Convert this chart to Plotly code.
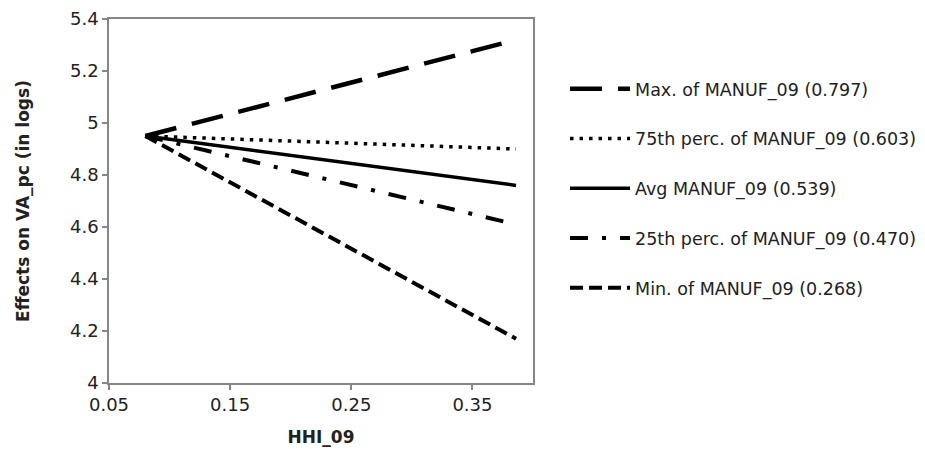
import plotly.graph_objects as go

hhi = [0.08, 0.386]
series_names = [
    "Max. of MANUF_09 (0.797)",
    "75th perc. of MANUF_09 (0.603)",
    "Avg MANUF_09 (0.539)",
    "25th perc. of MANUF_09 (0.470)",
    "Min. of MANUF_09 (0.268)",
]
max_vals = [4.95, 5.32]
p75_vals = [4.95, 4.90]
avg_vals = [4.95, 4.76]
p25_vals = [4.95, 4.61]
min_vals = [4.95, 4.17]

styles = [
    dict(width=4.5, dash="32px,16px"),
    dict(width=3.5, dash="3.5px,6px"),
    dict(width=3.5, dash="solid"),
    dict(width=4, dash="18px,14px,4px,14px"),
    dict(width=4, dash="13px,6px"),
]

fig = go.Figure()
for i, (name, vals) in enumerate(zip(series_names, [max_vals, p75_vals, avg_vals, p25_vals, min_vals])):
    fig.add_trace(go.Scatter(
        x=hhi, y=vals, mode="lines", name=name,
        line=dict(color="black", **styles[i]),
        legendgroup=f"g{i}",
    ))

font_family = "DejaVu Sans, Verdana, sans-serif"
axis_common = dict(
    showgrid=False, zeroline=False, showline=True, linecolor="#868686", linewidth=1.5,
    mirror=True, ticks="outside", ticklen=5, tickcolor="#868686", tickwidth=1.5,
    tickfont=dict(family=font_family, size=18, color="#222"),
    automargin=False, ticklabeloverflow="allow",
)

fig.update_layout(
    width=925, height=449,
    margin=dict(l=101, r=400, t=11, b=74),
    paper_bgcolor="white", plot_bgcolor="white",
    font=dict(family=font_family, color="#222"),
    xaxis=dict(range=[0.05, 0.40], tick0=0.05, dtick=0.1,
               title=dict(text="<b>HHI_09</b>", font=dict(size=17, family=font_family), standoff=17),
               **axis_common),
    yaxis=dict(range=[4, 5.4], tick0=4, dtick=0.2,
               title=dict(text="<b>Effects on VA_pc (in logs)</b>", font=dict(size=17, family=font_family), standoff=36),
               **axis_common),
    legend=dict(xref="container", yref="container", x=0.6022, xanchor="left", y=0.860, yanchor="top",
                font=dict(family=font_family, size=17.5, color="#222"),
                tracegroupgap=24, itemwidth=60, bgcolor="rgba(0,0,0,0)", maxheight=400),
    showlegend=True,
)

fig.write_html("out.html")
